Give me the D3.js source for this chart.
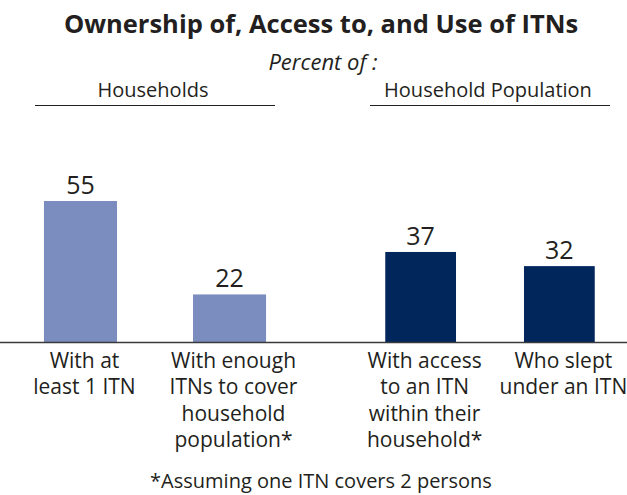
<!DOCTYPE html>
<html>
<head>
<meta charset="utf-8">
<script src="https://cdn.jsdelivr.net/npm/d3@7"></script>
<style>
  html, body { margin: 0; padding: 0; background: #fff; }
  svg { display: block; }
  text { font-family: "Open Sans", "Noto Sans", sans-serif; fill: #231f20; }
</style>
</head>
<body>
<svg id="chart" width="627" height="495"></svg>
<script>
// Ownership, access and use of ITNs (percent)
const groups = ["Households", "Household Population"];
const categories = [
  ["With at", "least 1 ITN"],
  ["With enough", "ITNs to cover", "household", "population*"],
  ["With access", "to an ITN", "within their", "household*"],
  ["Who slept", "under an ITN"]
];
const categoryGroup = [0, 0, 1, 1];
const values = [55, 22, 37, 32];
const groupColors = ["#7b8cbf", "#00265c"];

const svg = d3.select("#chart");
const W = 627;

// Title block
svg.append("text")
  .attr("x", 321).attr("y", 33)
  .attr("text-anchor", "middle")
  .style("font-weight", 700).style("font-size", "25.5px")
  .text("Ownership of, Access to, and Use of ITNs");

svg.append("text")
  .attr("x", 323).attr("y", 70)
  .attr("text-anchor", "middle")
  .style("font-style", "italic").style("font-size", "22px")
  .text("Percent  of :");

// Group header spans
const groupRanges = [[35, 275], [370, 610]];
const groupPadding = [[0.51, 0.06], [0.49, 0.11]];

const groupScales = groups.map((g, gi) => {
  const ids = d3.range(categories.length).filter(i => categoryGroup[i] === gi);
  return d3.scaleBand()
    .domain(ids)
    .range(groupRanges[gi])
    .paddingInner(groupPadding[gi][0])
    .paddingOuter(groupPadding[gi][1]);
});

const header = svg.append("g");
groups.forEach((g, gi) => {
  const [a, b] = groupRanges[gi];
  header.append("text")
    .attr("x", (a + b) / 2 - 2).attr("y", 97)
    .attr("text-anchor", "middle")
    .style("font-size", "20px")
    .text(g);
  header.append("line")
    .attr("x1", a).attr("x2", b)
    .attr("y1", 105.5).attr("y2", 105.5)
    .attr("stroke", "#231f20").attr("stroke-width", 1.2);
});

// Value scale
const y = d3.scaleLinear().domain([5.2, 55]).range([342, 201]);

const bars = svg.append("g");
values.forEach((v, i) => {
  const xs = groupScales[categoryGroup[i]];
  const x0 = xs(i), bw = xs.bandwidth();
  bars.append("rect")
    .attr("x", x0).attr("y", y(v))
    .attr("width", bw).attr("height", y.range()[0] - y(v))
    .attr("fill", groupColors[categoryGroup[i]]);
  bars.append("text")
    .attr("x", x0 + bw / 2).attr("y", y(v) - 7)
    .attr("text-anchor", "middle")
    .style("font-size", "25px")
    .text(v);
  const lbl = bars.append("text")
    .attr("text-anchor", "middle")
    .style("font-size", "21px");
  categories[i].forEach((line, li) => {
    lbl.append("tspan")
      .attr("x", x0 + bw / 2 + 4)
      .attr("y", 368 + li * 26.4)
      .text(line);
  });
});

// Baseline
svg.append("line")
  .attr("x1", 0).attr("x2", W)
  .attr("y1", y.range()[0] + 0.5).attr("y2", y.range()[0] + 0.5)
  .attr("stroke", "#3a3a3a").attr("stroke-width", 1.5);

// Footnote
svg.append("text")
  .attr("x", 321).attr("y", 488)
  .attr("text-anchor", "middle")
  .style("font-size", "20px")
  .text("*Assuming one ITN covers 2 persons");
</script>
</body>
</html>
